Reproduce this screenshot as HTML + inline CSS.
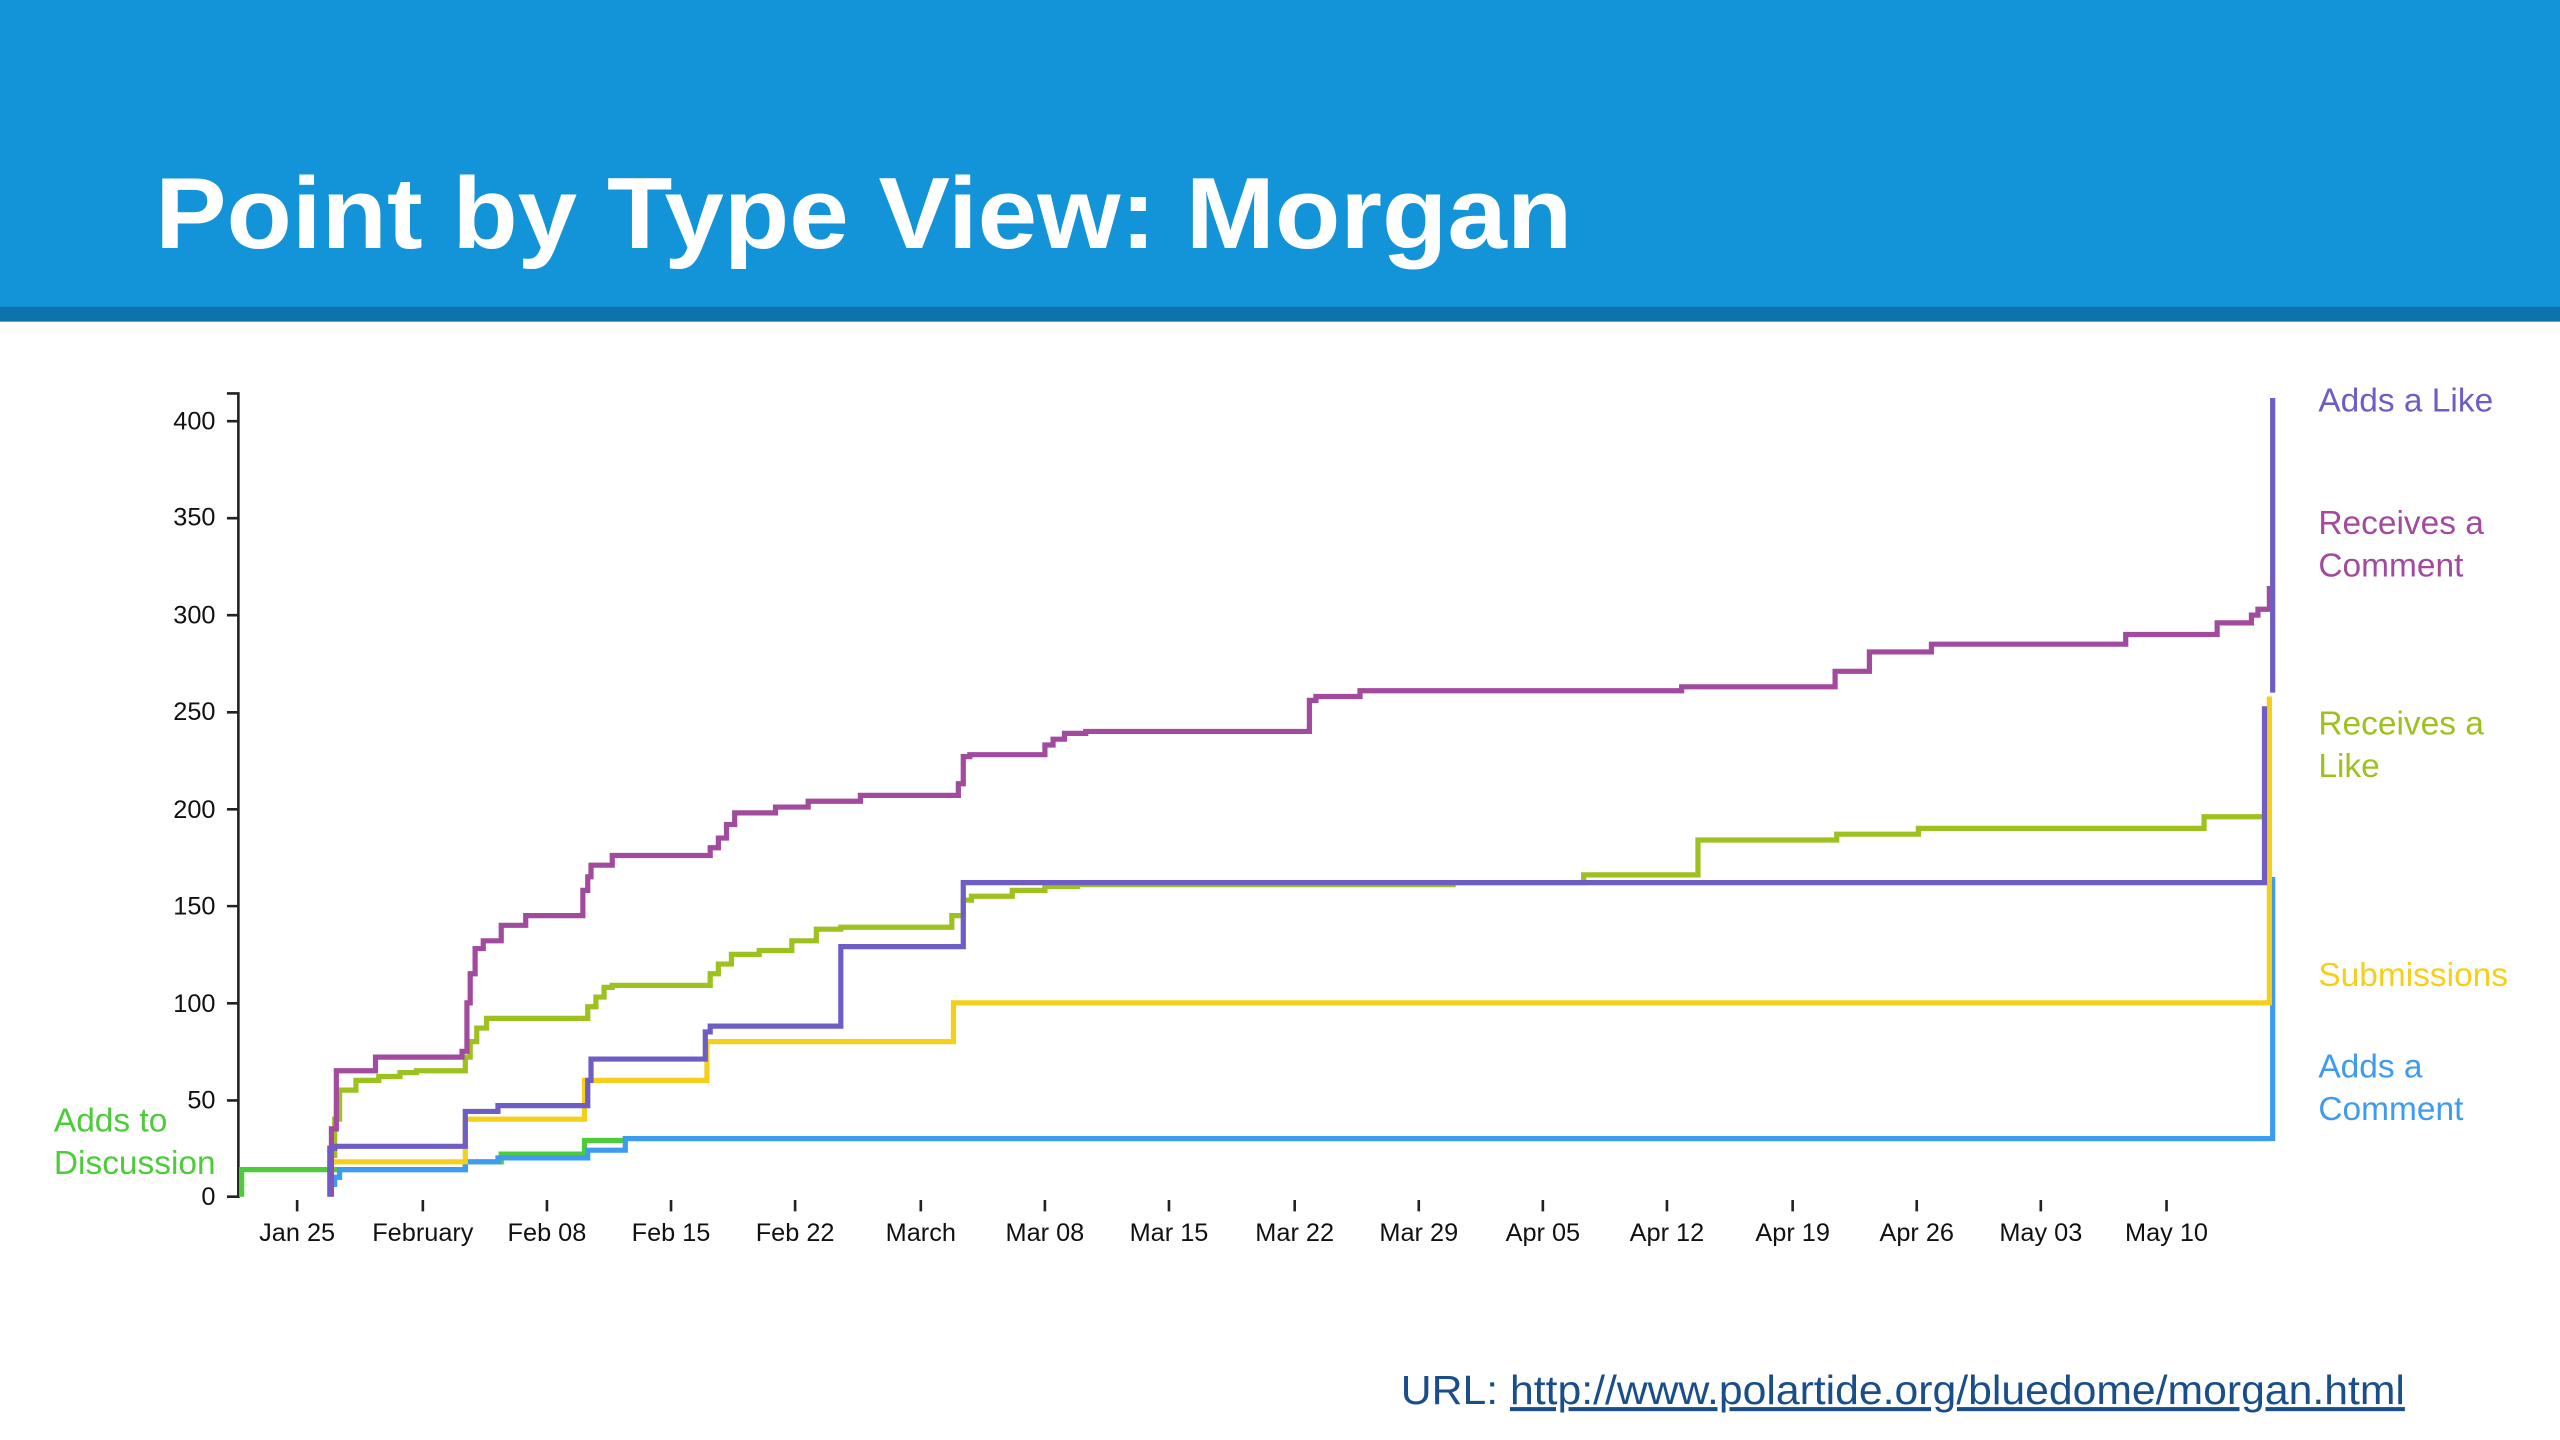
<!DOCTYPE html>
<html><head><meta charset="utf-8"><style>
html,body{margin:0;padding:0;background:#fff;width:2560px;height:1440px;overflow:hidden}
svg{display:block}
text{font-family:"Liberation Sans",Arial,sans-serif}
</style></head><body>
<svg width="2560" height="1440" viewBox="0 0 1568 882" preserveAspectRatio="none">
<rect x="0" y="0" width="1568" height="189" fill="#1394d8"/>
<rect x="0" y="188" width="1568" height="9" fill="#0e72ad"/>
<text x="95" y="152" font-size="62" font-weight="bold" fill="#fff" textLength="868" lengthAdjust="spacingAndGlyphs">Point by Type View: Morgan</text>

<g stroke="#222" stroke-width="1.6" fill="none">
<path d="M139 241 H146 V733 H139"/>
<path d="M139 258H146 M139 317.4H146 M139 376.8H146 M139 436.3H146 M139 495.7H146 M139 555H146 M139 614.5H146 M139 674H146"/>
<path d="M182 735v7 M259 735v7 M335 735v7 M411 735v7 M487 735v7 M564 735v7 M640 735v7 M716 735v7 M793 735v7 M869 735v7 M945 735v7 M1021 735v7 M1098 735v7 M1174 735v7 M1250 735v7 M1327 735v7"/>
</g>
<g font-size="15.5" fill="#111" text-anchor="end">
<text x="132" y="263">400</text><text x="132" y="322">350</text><text x="132" y="382">300</text>
<text x="132" y="441">250</text><text x="132" y="501">200</text><text x="132" y="560">150</text>
<text x="132" y="620">100</text><text x="132" y="679">50</text><text x="132" y="738">0</text>
</g>
<g font-size="15.5" fill="#111" text-anchor="middle">
<text x="182" y="760">Jan 25</text><text x="259" y="760">February</text><text x="335" y="760">Feb 08</text>
<text x="411" y="760">Feb 15</text><text x="487" y="760">Feb 22</text><text x="564" y="760">March</text>
<text x="640" y="760">Mar 08</text><text x="716" y="760">Mar 15</text><text x="793" y="760">Mar 22</text>
<text x="869" y="760">Mar 29</text><text x="945" y="760">Apr 05</text><text x="1021" y="760">Apr 12</text>
<text x="1098" y="760">Apr 19</text><text x="1174" y="760">Apr 26</text><text x="1250" y="760">May 03</text>
<text x="1327" y="760">May 10</text>
</g>

<g transform="translate(0,733) scale(1,-1.1875)" fill="none">
<path vector-effect="non-scaling-stroke" stroke="#4ccc3a" stroke-width="5.2" d="M148 0 V14 H285 V18 H307 V22 H358 V29 H383 V30 H1390"/>
<path vector-effect="non-scaling-stroke" stroke="#3d9bf0" stroke-width="5.2" d="M205 5 V10 H208 V14 H285 V18 H305 V20 H360 V24 H383 V30 H1392 V165"/>
<path vector-effect="non-scaling-stroke" stroke="#f5cf1a" stroke-width="5.2" d="M202 15 V18 H285 V40 H358 V60 H433 V80 H584 V100 H1390 V258"/>
<path vector-effect="non-scaling-stroke" stroke="#9dc11e" stroke-width="5.2" d="M205 20 V40 H208 V55 H218 V60 H232 V62 H245 V64 H255 V65 H285 V72 H288 V80 H292 V87 H298 V92 H360 V98 H365 V103 H370 V108 H375 V109 H435 V115 H440 V120 H448 V125 H465 V127 H485 V132 H500 V138 H515 V139 H583 V145 H590 V153 H595 V155 H620 V158 H640 V160 H660 V161 H890 V162 H970 V166 H1040 V184 H1125 V187 H1175 V190 H1350 V196 H1386"/>
<path vector-effect="non-scaling-stroke" stroke="#a24a9e" stroke-width="5.2" d="M203 0 V35 H206 V65 H230 V72 H283 V75 H286 V100 H288 V115 H291 V128 H296 V132 H307 V140 H322 V145 H357 V158 H360 V165 H362 V171 H375 V176 H435 V180 H440 V185 H445 V192 H450 V198 H475 V201 H495 V204 H527 V207 H587 V213 H590 V227 H594 V228 H640 V233 H645 V236 H652 V239 H665 V240 H802 V256 H806 V258 H833 V261 H1030 V263 H1124 V271 H1145 V281 H1183 V285 H1302 V290 H1358 V296 H1379 V300 H1383 V303 H1390 V315"/>
<path vector-effect="non-scaling-stroke" stroke="#6f5cc4" stroke-width="5.2" d="M202 0 V25 H205 V26 H285 V44 H305 V47 H360 V60 H362 V71 H432 V85 H435 V88 H515 V129 H590 V162 H1387 V253"/>
<path vector-effect="non-scaling-stroke" stroke="#6f5cc4" stroke-width="5.2" d="M1392 260 V412"/>
</g>

<g font-size="20.5">
<text x="1420" y="252" fill="#6f5cc4">Adds a Like</text>
<text x="1420" y="327" fill="#a24a9e">Receives a</text>
<text x="1420" y="353" fill="#a24a9e">Comment</text>
<text x="1420" y="450" fill="#9dc11e">Receives a</text>
<text x="1420" y="476" fill="#9dc11e">Like</text>
<text x="1420" y="604" fill="#f5cf1a">Submissions</text>
<text x="1420" y="660" fill="#3d9bf0">Adds a</text>
<text x="1420" y="686" fill="#3d9bf0">Comment</text>
<text x="33" y="693" fill="#4ccc3a">Adds to</text>
<text x="33" y="719" fill="#4ccc3a">Discussion</text>
</g>
<text x="858" y="860" font-size="25" fill="#1a4e8a" textLength="615" lengthAdjust="spacingAndGlyphs">URL: <tspan text-decoration="underline">http://www.polartide.org/bluedome/morgan.html</tspan></text>
</svg>
</body></html>
